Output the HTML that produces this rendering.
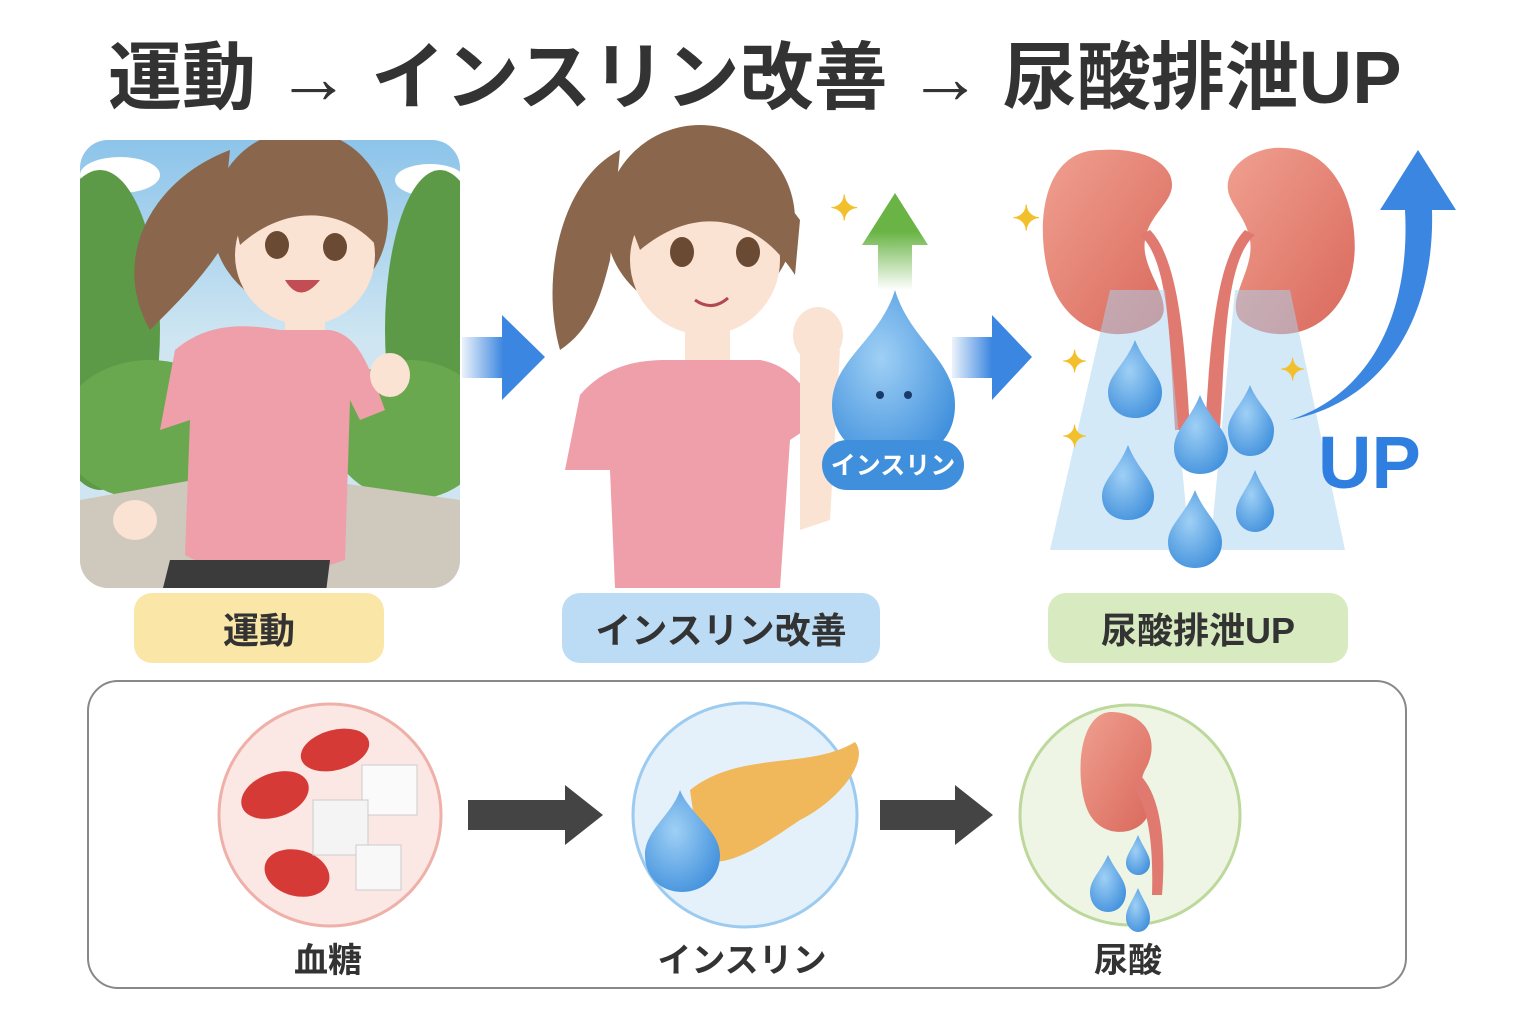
<!DOCTYPE html>
<html><head><meta charset="utf-8"><style>
html,body{margin:0;padding:0;background:#fff;width:1536px;height:1024px;overflow:hidden}
svg{display:block}
text{font-family:"Liberation Sans","Noto Sans CJK JP",sans-serif;font-weight:bold}
</style></head><body>
<svg width="1536" height="1024" viewBox="0 0 1536 1024">
<defs>
<linearGradient id="sky" x1="0" y1="0" x2="0" y2="1"><stop offset="0" stop-color="#8cc4ea"/><stop offset="0.45" stop-color="#cfe6f2"/><stop offset="1" stop-color="#cfe6f2"/></linearGradient>
<linearGradient id="barr" x1="0" y1="0" x2="1" y2="0"><stop offset="0" stop-color="#3b86e0" stop-opacity="0.1"/><stop offset="0.5" stop-color="#3b86e0"/></linearGradient>
<linearGradient id="garr" x1="0" y1="1" x2="0" y2="0"><stop offset="0" stop-color="#6ab446" stop-opacity="0"/><stop offset="0.6" stop-color="#6ab446"/></linearGradient>
<clipPath id="c1"><rect x="80" y="140" width="380" height="448" rx="28"/></clipPath>
<radialGradient id="drop" cx="0.4" cy="0.4" r="0.7"><stop offset="0" stop-color="#9fd0f5"/><stop offset="1" stop-color="#3f8fdc"/></radialGradient>
<linearGradient id="kid" x1="0" y1="0" x2="1" y2="1"><stop offset="0" stop-color="#f0a090"/><stop offset="1" stop-color="#d9685c"/></linearGradient>
</defs>

<text x="108" y="103" font-size="74" fill="#333">運動 → インスリン改善 → 尿酸排泄UP</text>

<!-- Panel 1 -->
<g clip-path="url(#c1)">
<rect x="80" y="140" width="380" height="448" fill="url(#sky)"/>
<ellipse x="0" cx="120" cy="175" rx="40" ry="18" fill="#fff"/>
<ellipse cx="430" cy="180" rx="35" ry="16" fill="#fff"/>
<ellipse cx="100" cy="330" rx="60" ry="160" fill="#5d9a48"/>
<ellipse cx="440" cy="330" rx="55" ry="160" fill="#5d9a48"/>
<ellipse cx="150" cy="430" rx="90" ry="70" fill="#6aa850"/>
<ellipse cx="410" cy="430" rx="80" ry="70" fill="#6aa850"/>
<polygon points="80,500 250,470 460,500 460,588 80,588" fill="#cfc8bd"/>
<!-- girl -->
<path d="M230,150 C150,180 110,260 150,330 C180,300 200,280 220,250 Z" fill="#8a664c"/>
<ellipse cx="300" cy="220" rx="88" ry="90" fill="#8a664c"/>
<ellipse cx="305" cy="255" rx="70" ry="70" fill="#fbe3d3"/>
<path d="M230,200 C260,160 340,150 385,210 L380,250 C350,210 290,200 240,245 Z" fill="#8a664c"/>
<ellipse cx="277" cy="245" rx="12" ry="14" fill="#6b4a34"/>
<ellipse cx="335" cy="247" rx="12" ry="14" fill="#6b4a34"/>
<path d="M285,280 Q300,305 320,280 Z" fill="#c24d55"/>
<rect x="285" y="310" width="40" height="30" fill="#fbe3d3"/>
<path d="M175,350 C210,320 250,325 280,330 L330,330 C360,335 370,370 385,410 L360,420 L350,400 L345,560 C290,580 230,580 185,555 L190,420 L160,430 Z" fill="#ef9fa9"/>
<ellipse cx="390" cy="375" rx="20" ry="22" fill="#fbe3d3"/>
<ellipse cx="135" cy="520" rx="22" ry="20" fill="#fbe3d3"/>
<path d="M170,560 L330,560 L325,600 L160,600 Z" fill="#3b3b3b"/>
</g>

<!-- arrow 1 -->
<polygon points="462,337 502,337 502,315 545,357 502,400 502,378 462,378" fill="url(#barr)"/>
<polygon points="952,337 992,337 992,315 1032,357 992,400 992,378 952,378" fill="url(#barr)"/>

<!-- girl 2 -->
<path d="M620,150 C560,180 540,280 560,350 C590,330 600,300 610,260 Z" fill="#8a664c"/>
<ellipse cx="700" cy="220" rx="95" ry="95" fill="#8a664c"/>
<ellipse cx="705" cy="260" rx="75" ry="75" fill="#fbe3d3"/>
<path d="M625,210 C660,160 750,150 800,220 L795,275 C760,220 700,200 640,250 Z" fill="#8a664c"/>
<ellipse cx="682" cy="252" rx="12" ry="15" fill="#6b4a34"/>
<ellipse cx="748" cy="252" rx="12" ry="15" fill="#6b4a34"/>
<path d="M695,300 Q712,312 728,298" stroke="#b04a50" stroke-width="3" fill="none"/>
<rect x="685" y="320" width="45" height="40" fill="#fbe3d3"/>
<path d="M580,395 C610,360 650,360 670,360 L760,360 C790,365 810,390 820,420 L790,440 L780,588 L615,588 L610,470 L565,470 Z" fill="#ef9fa9"/>
<ellipse cx="818" cy="335" rx="25" ry="28" fill="#fbe3d3"/>
<path d="M800,350 L840,350 L830,520 L800,530 Z" fill="#fbe3d3"/>

<!-- insulin drop & green arrow -->
<polygon points="878,290 878,245 862,245 895,193 928,245 912,245 912,290" fill="url(#garr)"/>
<text x="830" y="220" font-size="34" fill="#f2c02c">✦</text>
<path d="M895,290 C880,340 832,360 832,405 C832,440 860,460 895,460 C930,460 955,440 955,405 C955,360 910,340 895,290 Z" fill="url(#drop)"/>
<rect x="822" y="440" width="142" height="50" rx="25" fill="#3f8fdc"/>
<text x="893" y="474" font-size="25" fill="#fff" text-anchor="middle">インスリン</text>
<circle cx="880" cy="395" r="4" fill="#1a3a6a"/><circle cx="908" cy="395" r="4" fill="#1a3a6a"/>

<!-- kidneys -->
<path d="M1100,150 C1040,150 1035,230 1050,280 C1070,340 1130,345 1160,320 C1175,300 1140,270 1145,240 C1150,210 1180,200 1170,175 C1160,155 1130,148 1100,150 Z" fill="url(#kid)"/>
<path d="M1285,148 C1345,150 1365,230 1350,280 C1330,340 1270,345 1240,320 C1225,300 1255,270 1250,240 C1245,210 1220,200 1230,175 C1240,155 1265,146 1285,148 Z" fill="url(#kid)"/>
<path d="M1140,235 C1170,260 1170,350 1175,430 L1190,430 C1185,350 1180,260 1150,230 Z" fill="#e07a70"/>
<path d="M1255,235 C1225,260 1225,350 1220,430 L1205,430 C1210,350 1215,260 1245,230 Z" fill="#e07a70"/>
<polygon points="1110,290 1165,290 1190,550 1050,550" fill="#a9d3f2" opacity="0.5"/>
<polygon points="1235,290 1290,290 1345,550 1210,550" fill="#a9d3f2" opacity="0.5"/>
<g fill="url(#drop)">
<path d="M1135,340 C1125,365 1108,375 1108,392 C1108,408 1120,418 1135,418 C1150,418 1162,408 1162,392 C1162,375 1145,365 1135,340 Z"/>
<path d="M1200,395 C1190,420 1174,430 1174,448 C1174,464 1186,474 1200,474 C1215,474 1228,464 1228,448 C1228,430 1210,420 1200,395 Z"/>
<path d="M1250,385 C1242,405 1228,415 1228,430 C1228,446 1238,456 1250,456 C1264,456 1274,446 1274,430 C1274,415 1258,405 1250,385 Z"/>
<path d="M1128,445 C1118,470 1102,480 1102,496 C1102,512 1114,520 1128,520 C1142,520 1154,512 1154,496 C1154,480 1138,470 1128,445 Z"/>
<path d="M1195,490 C1185,515 1168,525 1168,542 C1168,558 1180,568 1195,568 C1210,568 1222,558 1222,542 C1222,525 1205,515 1195,490 Z"/>
<path d="M1255,470 C1247,490 1236,500 1236,512 C1236,524 1245,532 1255,532 C1265,532 1274,524 1274,512 C1274,500 1263,490 1255,470 Z"/>
</g>
<path d="M1290,420 C1380,390 1410,300 1405,210 L1380,210 L1418,150 L1456,210 L1432,210 C1435,310 1390,400 1290,420 Z" fill="#3b86e0"/>
<text x="1318" y="488" font-size="74" fill="#2f7fe0">UP</text>
<text x="1012" y="230" font-size="34" fill="#f2c02c">✦</text>
<text x="1062" y="372" font-size="30" fill="#f2c02c">✦</text>
<text x="1062" y="447" font-size="30" fill="#f2c02c">✦</text>
<text x="1280" y="380" font-size="30" fill="#f2c02c">✦</text>

<!-- labels -->
<rect x="134" y="593" width="250" height="70" rx="18" fill="#fae6a6"/>
<text x="259" y="643" font-size="36" fill="#333" text-anchor="middle">運動</text>
<rect x="562" y="593" width="318" height="70" rx="18" fill="#bcdcf5"/>
<text x="721" y="643" font-size="36" fill="#333" text-anchor="middle">インスリン改善</text>
<rect x="1048" y="593" width="300" height="70" rx="18" fill="#d8eac0"/>
<text x="1198" y="643" font-size="36" fill="#333" text-anchor="middle">尿酸排泄UP</text>

<!-- bottom box -->
<rect x="88" y="681" width="1318" height="307" rx="30" fill="#fff" stroke="#888" stroke-width="2"/>
<circle cx="330" cy="815" r="111" fill="#fbe7e3" stroke="#eeb0a8" stroke-width="3"/>
<ellipse cx="335" cy="750" rx="35" ry="20" fill="#d63a36" transform="rotate(-15 335 750)"/>
<ellipse cx="275" cy="795" rx="35" ry="22" fill="#d63a36" transform="rotate(-20 275 795)"/>
<ellipse cx="297" cy="873" rx="33" ry="23" fill="#d63a36" transform="rotate(15 297 873)"/>
<rect x="362" y="765" width="55" height="50" fill="#fafafa" stroke="#ccc"/>
<rect x="313" y="800" width="55" height="55" fill="#f4f4f4" stroke="#ccc"/>
<rect x="356" y="845" width="45" height="45" fill="#f8f8f8" stroke="#ccc"/>
<polygon points="468,800 565,800 565,785 603,815 565,845 565,830 468,830" fill="#444"/>
<circle cx="745" cy="815" r="112" fill="#e4f1fb" stroke="#9ccbef" stroke-width="3"/>
<path d="M690,790 C740,750 810,770 855,742 C870,760 840,800 800,820 C770,840 730,870 700,860 Z" fill="#f0b85a"/>
<path d="M680,790 C672,815 645,830 645,855 C645,878 662,892 682,892 C702,892 720,878 720,855 C720,830 690,815 680,790 Z" fill="url(#drop)"/>
<polygon points="880,800 955,800 955,785 993,815 955,845 955,830 880,830" fill="#444"/>
<circle cx="1130" cy="815" r="110" fill="#eef5e4" stroke="#bcd89a" stroke-width="3"/>
<path d="M1110,712 C1075,715 1075,790 1090,815 C1105,840 1140,835 1148,815 C1150,800 1135,790 1145,770 C1160,745 1150,712 1110,712 Z" fill="url(#kid)"/>
<path d="M1140,775 C1165,800 1165,860 1162,895 L1152,895 C1153,860 1152,810 1132,785 Z" fill="#e07a70"/>
<g fill="url(#drop)">
<path d="M1108,855 C1100,872 1090,880 1090,892 C1090,904 1098,912 1108,912 C1118,912 1126,904 1126,892 C1126,880 1116,872 1108,855 Z"/>
<path d="M1138,888 C1132,902 1126,908 1126,918 C1126,926 1132,932 1138,932 C1145,932 1150,926 1150,918 C1150,908 1144,902 1138,888 Z"/>
<path d="M1138,835 C1132,849 1126,855 1126,863 C1126,870 1132,875 1138,875 C1145,875 1150,870 1150,863 C1150,855 1144,849 1138,835 Z"/>
</g>
<text x="328" y="972" font-size="34" fill="#333" text-anchor="middle">血糖</text>
<text x="742" y="972" font-size="34" fill="#333" text-anchor="middle">インスリン</text>
<text x="1128" y="972" font-size="34" fill="#333" text-anchor="middle">尿酸</text>
</svg>
</body></html>
